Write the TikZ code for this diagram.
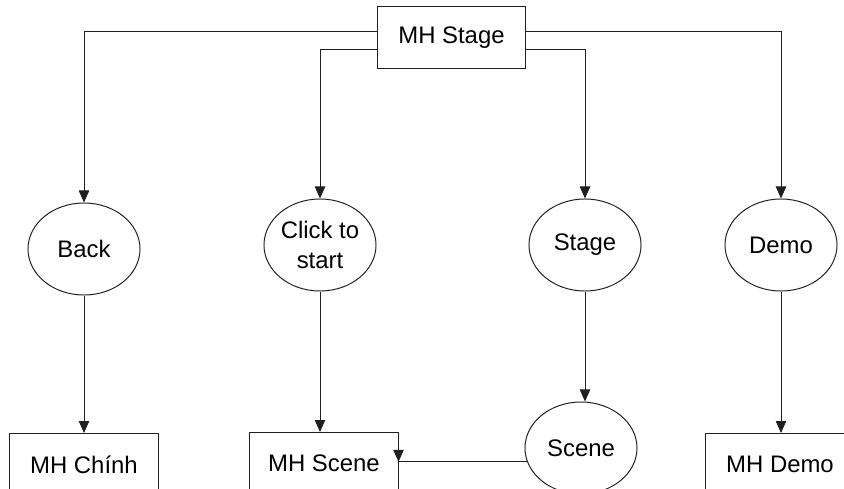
\documentclass[tikz,border=0pt]{standalone}
\usepackage{fontspec}
\setmainfont{Liberation Sans}
\usepackage{tikz}
\usetikzlibrary{arrows.meta,positioning,calc,shapes.geometric}
\definecolor{mhink}{HTML}{000000}
\definecolor{mhline}{HTML}{202020}

\begin{document}
\begin{tikzpicture}[
  x=0.025cm,y=-0.025cm,
  screen/.style={rectangle,draw=mhline,line width=0.7pt,minimum width=3.7cm,minimum height=1.55cm,
                 inner sep=0pt,font=\fontsize{17}{21}\selectfont,text=mhink},
  event/.style={ellipse,draw=mhline,line width=0.7pt,minimum width=2.8cm,minimum height=2.3cm,
                inner sep=0pt,align=center,font=\fontsize{17}{21}\selectfont,text=mhink},
  link/.style={-{Triangle[length=0.3cm,width=0.26cm]},draw=mhline,line width=0.7pt},
]
\clip (0,0) rectangle (844,488);
\fill[white] (0,0) rectangle (844,488);

% top screen
\node[screen] (mhstage) at (451.5,37.5) {MH Stage};

% events reachable from the stage screen
\node[event] (back)  at (84,249)  {Back};
\node[event] (click) at (320,245) {Click to\\start};
\node[event] (stg)   at (585,245) {Stage};
\node[event] (demo)  at (781,245) {Demo};
\node[event] (scene) at (581,448) {Scene};

% target screens (cut at the lower edge)
\node[screen,anchor=north] (mhchinh) at (84,433)  {\raisebox{-0.35cm}{MH Chính}};
\node[screen,anchor=north] (mhscene) at (324,432) {\raisebox{-0.35cm}{MH Scene}};
\node[screen,anchor=north] (mhdemo)  at (780,433) {\raisebox{-0.35cm}{MH Demo}};

% branches out of MH Stage
\draw[link] ([yshift=0.16cm]mhstage.west) -| (back.north);
\draw[link] ([yshift=-0.29cm]mhstage.west) -| (click.north);
\draw[link] ([yshift=0.16cm]mhstage.east) -| (demo.north);
\draw[link] ([yshift=-0.29cm]mhstage.east) -| (stg.north);

% events to screens
\draw[link] (back.south)  -- (back.south |- mhchinh.north);
\draw[link] (click.south) -- (click.south |- mhscene.north);
\draw[link] (stg.south)   -- (stg.south |- scene.north);
\draw[link] (demo.south)  -- (demo.south |- mhdemo.north);
\draw[link] (scene.194) -- (scene.194 -| mhscene.east) -- ++(0,0.4);
\end{tikzpicture}
\end{document}
